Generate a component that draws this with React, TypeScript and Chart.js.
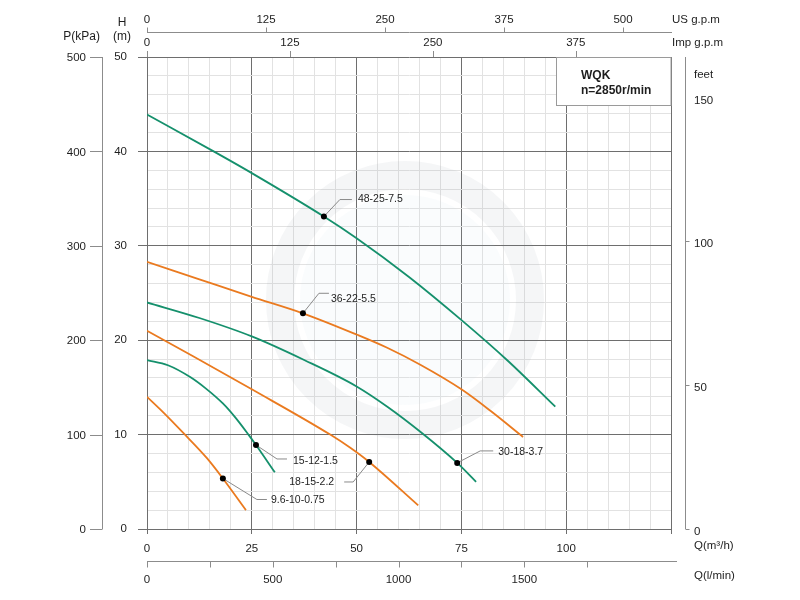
import React, { useEffect, useRef } from 'react';
import { Chart, registerables } from 'chart.js';

Chart.register(...registerables);

// ---------- data ----------
const qLabelTicks = [0, 25, 50, 75, 100]; // m3/h labelled ticks
const hLabelTicks = [0, 10, 20, 30, 40, 50]; // m
const pTicks = [0, 100, 200, 300, 400, 500]; // kPa
const feetTicks = [0, 50, 100, 150];
const feetTickMarks = [0, 50, 100];
const usGpmTicks = [0, 125, 250, 375, 500];
const impGpmTicks = [0, 125, 250, 375];
const lminTicks = [0, 250, 500, 750, 1000, 1250, 1500, 1750];
const lminLabels = [0, 500, 1000, 1500];

const curveNames = ['48-25-7.5', '36-22-5.5', '30-18-3.7', '18-15-2.2', '15-12-1.5', '9.6-10-0.75'];

const q48 = [0, 15.9, 25, 42.2, 50, 62.5, 75.1, 86, 97.4];
const h48 = [43.9, 40.0, 37.7, 33.1, 30.8, 26.7, 22.1, 17.85, 12.96];

const q36 = [0, 12.5, 25, 37.2, 50, 57.3, 65.2, 75, 82, 89.7];
const h36 = [28.3, 26.45, 24.6, 22.85, 20.6, 19.2, 17.4, 14.8, 12.5, 9.75];

const q30 = [0, 12.5, 25, 37.5, 50, 57.5, 65.2, 74, 78.5];
const h30 = [24.0, 22.35, 20.4, 17.9, 15.1, 12.9, 10.3, 7.0, 5.0];

const q18 = [0, 11, 25, 43.7, 48.5, 53, 64.7];
const h18 = [21.0, 18.3, 14.8, 10.0, 8.6, 7.1, 2.5];

const q15 = [0, 5, 10.3, 14, 18.1, 21, 24.2, 26, 30.5];
const h15 = [17.9, 17.35, 16.1, 14.9, 13.3, 11.85, 10.0, 8.9, 6.0];

const q96 = [0, 4, 8.6, 14.3, 18.1, 23.6];
const h96 = [14.0, 12.3, 10.2, 7.5, 5.35, 2.0];

// duty points (marked with dots)
const markQ = [42.2, 37.2, 74, 53, 26, 18.1];
const markH = [33.1, 22.85, 7.0, 7.1, 8.9, 5.35];

const modelName = 'WQK';
const speedText = 'n=2850r/min';

// ---------- style ----------
const GREEN = '#15906c';
const ORANGE = '#ea7a1f';
const MAJOR = '#6e6e6e';
const MINOR = '#e2e2e2';
const TXT = '#1e1e1e';
const FONT = '"Liberation Sans", Arial, sans-serif';

const US_GPM_TO_M3H = 3.785411784 * 60 / 1000;
const IMP_GPM_TO_M3H = 4.54609 * 60 / 1000;
const LMIN_TO_M3H = 0.06;
const FT_TO_M = 0.3048;
const KPA_TO_M = 0.1;

const toPts = (q: number[], h: number[]) => q.map((v, i) => ({ x: v, y: h[i] }));

// leader line offsets (px) per duty point: elbow, end, text pos, alignment
const leaders = [
  { ex: 16, ey: -17, lx: 28, ly: -17, tx: 34, ty: -17, align: 'left' },
  { ex: 16, ey: -20, lx: 26, ly: -20, tx: 28, ty: -14, align: 'left' },
  { ex: 23, ey: -12, lx: 36, ly: -12, tx: 41, ty: -11, align: 'left' },
  { ex: -16, ey: 20, lx: -25, ly: 20, tx: -35, ty: 20, align: 'right' },
  { ex: 21, ey: 14, lx: 31, ly: 14, tx: 37, ty: 16, align: 'left' },
  { ex: 34, ey: 21, lx: 44, ly: 21, tx: 48, ty: 22, align: 'left' },
];

const decorPlugin = {
  id: 'decor',
  beforeDraw(chart: any) {
    const ctx = chart.ctx;
    ctx.save();
    ctx.fillStyle = '#ffffff';
    ctx.fillRect(0, 0, chart.width, chart.height);
    ctx.restore();
  },
  beforeDatasetsDraw(chart: any) {
    const ctx = chart.ctx;
    const xs = chart.scales.x;
    const ys = chart.scales.y;
    const X = (v: number) => xs.getPixelForValue(v);
    const Y = (v: number) => ys.getPixelForValue(v);
    ctx.save();
    // faint watermark ring
    ctx.strokeStyle = 'rgba(120,130,140,0.07)';
    ctx.lineWidth = 28;
    ctx.beginPath();
    ctx.arc(405, 300, 125, 0, Math.PI * 2);
    ctx.stroke();
    ctx.fillStyle = 'rgba(190,210,225,0.07)';
    ctx.beginPath();
    ctx.arc(405, 300, 105, 0, Math.PI * 2);
    ctx.fill();

    // leader lines + labels
    ctx.strokeStyle = '#8a8a8a';
    ctx.lineWidth = 1;
    ctx.fillStyle = TXT;
    ctx.font = `10.5px ${FONT}`;
    ctx.textBaseline = 'middle';
    markQ.forEach((q, i) => {
      const px = X(q);
      const py = Y(markH[i]);
      const l = leaders[i];
      ctx.beginPath();
      ctx.moveTo(px, py);
      ctx.lineTo(px + l.ex, py + l.ey);
      ctx.lineTo(px + l.lx, py + l.ly);
      ctx.stroke();
      ctx.textAlign = l.align;
      ctx.fillText(curveNames[i], px + l.tx, py + l.ty);
    });
    ctx.restore();
  },
  afterDatasetsDraw(chart: any) {
    const ctx = chart.ctx;
    const xs = chart.scales.x;
    const ys = chart.scales.y;
    const X = (v: number) => xs.getPixelForValue(v);
    const Y = (v: number) => ys.getPixelForValue(v);
    const area = chart.chartArea;
    ctx.save();
    ctx.strokeStyle = '#8c8c8c';
    ctx.lineWidth = 1;
    ctx.fillStyle = TXT;
    ctx.font = `11.5px ${FONT}`;

    // P (kPa) axis
    const pxAxis = 102.5;
    ctx.beginPath();
    ctx.moveTo(pxAxis, Y(0));
    ctx.lineTo(pxAxis, Y(50));
    pTicks.forEach((p) => {
      const y = Math.round(Y(p * KPA_TO_M)) + 0.5;
      ctx.moveTo(90, y);
      ctx.lineTo(pxAxis, y);
    });
    ctx.stroke();
    ctx.textAlign = 'right';
    ctx.textBaseline = 'middle';
    pTicks.forEach((p) => ctx.fillText(String(p), 86, Y(p * KPA_TO_M) + 1));

    // feet axis
    const fxAxis = 685.5;
    ctx.beginPath();
    ctx.moveTo(fxAxis, Y(50));
    ctx.lineTo(fxAxis, Y(0));
    feetTickMarks.forEach((f) => {
      const y = Math.round(Y(f * FT_TO_M)) + 0.5;
      ctx.moveTo(fxAxis, y);
      ctx.lineTo(fxAxis + 4, y);
    });
    ctx.stroke();
    ctx.textAlign = 'left';
    feetTicks.forEach((f) => ctx.fillText(String(f), 694, Y(f * FT_TO_M) + 3));
    ctx.fillText('feet', 694, 75);

    // US g.p.m axis
    const usY = 32.5;
    ctx.beginPath();
    ctx.moveTo(X(0), usY);
    ctx.lineTo(area.right + 1, usY);
    usGpmTicks.forEach((g) => {
      const x = Math.round(X(g * US_GPM_TO_M3H)) + 0.5;
      ctx.moveTo(x, usY);
      ctx.lineTo(x, usY - 5);
    });
    // Imp g.p.m ticks on top frame
    impGpmTicks.forEach((g) => {
      const x = Math.round(X(g * IMP_GPM_TO_M3H)) + 0.5;
      ctx.moveTo(x, area.top);
      ctx.lineTo(x, area.top - 6);
    });
    ctx.stroke();
    ctx.textAlign = 'center';
    usGpmTicks.forEach((g) => ctx.fillText(String(g), X(g * US_GPM_TO_M3H), 20));
    impGpmTicks.forEach((g) => ctx.fillText(String(g), X(g * IMP_GPM_TO_M3H), 43));
    ctx.textAlign = 'left';
    ctx.fillText('US g.p.m', 672, 20);
    ctx.fillText('Imp g.p.m', 672, 43);

    // l/min axis
    const lY = 561.5;
    ctx.beginPath();
    ctx.moveTo(X(0), lY);
    ctx.lineTo(677, lY);
    lminTicks.forEach((l) => {
      const x = Math.round(X(l * LMIN_TO_M3H)) + 0.5;
      ctx.moveTo(x, lY);
      ctx.lineTo(x, lY + 6);
    });
    ctx.stroke();
    ctx.textAlign = 'center';
    lminLabels.forEach((l) => ctx.fillText(String(l), X(l * LMIN_TO_M3H), 580));
    ctx.textAlign = 'left';
    ctx.fillText('Q(m\u00b3/h)', 694, 546);
    ctx.fillText('Q(l/min)', 694, 576);

    // left titles
    ctx.font = `12px ${FONT}`;
    ctx.textAlign = 'right';
    ctx.fillText('P(kPa)', 100, 37);
    ctx.textAlign = 'center';
    ctx.fillText('H', 122, 23);
    ctx.fillText('(m)', 122, 37);

    // model box
    ctx.fillStyle = '#ffffff';
    ctx.fillRect(556, area.top, area.right - 556, 48);
    ctx.strokeStyle = '#9a9a9a';
    ctx.strokeRect(556.5, area.top + 0.5, area.right - 556.5, 48);
    ctx.fillStyle = TXT;
    ctx.font = `bold 12px ${FONT}`;
    ctx.textAlign = 'left';
    ctx.fillText(modelName, 581, 76);
    ctx.fillText(speedText, 581, 91);
    ctx.restore();
  },
};

export default function App() {
  const ref = useRef<HTMLCanvasElement | null>(null);
  useEffect(() => {
    if (!ref.current) return;
    const curves = [
      { q: q48, h: h48, c: GREEN },
      { q: q36, h: h36, c: ORANGE },
      { q: q30, h: h30, c: GREEN },
      { q: q18, h: h18, c: ORANGE },
      { q: q15, h: h15, c: GREEN },
      { q: q96, h: h96, c: ORANGE },
    ];
    const datasets: any[] = curves.map((cv, i) => ({
      label: curveNames[i],
      data: toPts(cv.q, cv.h),
      showLine: true,
      borderColor: cv.c,
      backgroundColor: cv.c,
      borderWidth: 1.8,
      pointRadius: 0,
      cubicInterpolationMode: 'monotone',
      order: 2,
    }));
    datasets.push({
      label: 'duty points',
      data: toPts(markQ, markH),
      showLine: false,
      pointRadius: 3,
      pointBackgroundColor: '#000',
      pointBorderWidth: 0,
      order: 1,
    });
    const isMajorX = (v: number) => v % 25 === 0;
    const isMajorY = (v: number) => v % 10 === 0;
    const chart = new Chart(ref.current, {
      type: 'scatter',
      data: { datasets },
      options: {
        animation: false,
        responsive: false,
        devicePixelRatio: 1,
        layout: { padding: { top: 57, right: 129, left: 0, bottom: 0 } },
        plugins: { legend: { display: false }, tooltip: { enabled: false } },
        scales: {
          x: {
            type: 'linear',
            min: 0,
            max: 125,
            afterFit: (s: any) => { s.height = 71; },
            border: { display: true, color: MAJOR },
            grid: {
              color: (c: any) => (c.tick && isMajorX(c.tick.value) ? MAJOR : MINOR),
              tickColor: (c: any) => (c.tick && isMajorX(c.tick.value) ? MAJOR : 'rgba(0,0,0,0)'),
              tickLength: 5,
              lineWidth: 1,
            },
            ticks: {
              stepSize: 5,
              autoSkip: false,
              maxRotation: 0,
              padding: 8,
              color: TXT,
              font: { family: FONT, size: 11.5 },
              callback: (v: any) => (qLabelTicks.includes(Number(v)) ? String(v) : ''),
            },
          },
          y: {
            type: 'linear',
            min: 0,
            max: 50,
            afterFit: (s: any) => { s.width = 147; },
            border: { display: true, color: MAJOR },
            grid: {
              color: (c: any) => (c.tick && isMajorY(c.tick.value) ? MAJOR : MINOR),
              tickColor: (c: any) => (c.tick && isMajorY(c.tick.value) ? MAJOR : 'rgba(0,0,0,0)'),
              tickLength: 9,
              lineWidth: 1,
            },
            ticks: {
              stepSize: 2,
              autoSkip: false,
              padding: 11,
              color: TXT,
              font: { family: FONT, size: 11.5 },
              callback: (v: any) => (hLabelTicks.includes(Number(v)) ? String(v) : ''),
            },
          },
        },
      },
      plugins: [decorPlugin],
    } as any);
    return () => chart.destroy();
  }, []);
  return (
    <div style={{ position: 'absolute', left: 0, top: 0, width: 800, height: 600, background: '#fff' }}>
      <canvas ref={ref} width={800} height={600} style={{ display: 'block' }} />
    </div>
  );
}
